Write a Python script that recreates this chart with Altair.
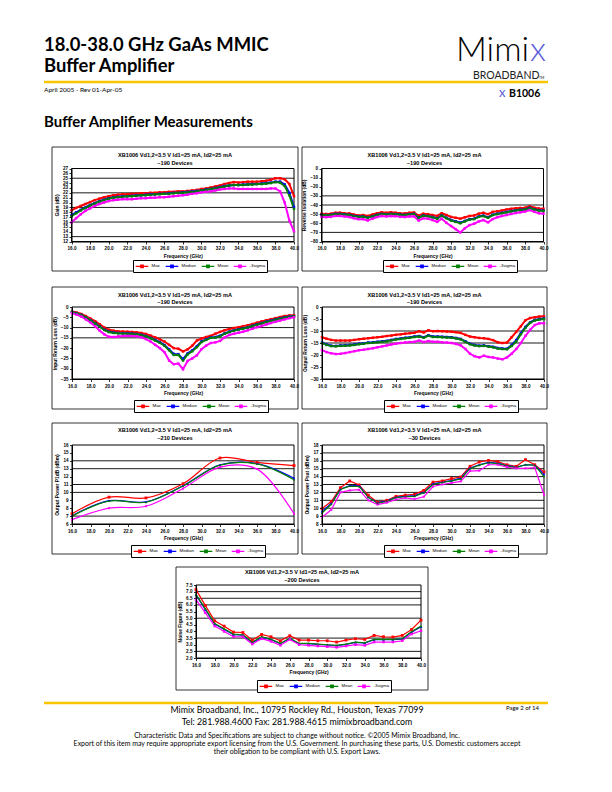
import altair as alt
import pandas as pd

W, H = 596, 776
ARIAL = "Liberation Sans"
GILL = "Lato"
YELLOW = "#F7C600"
LOGO_BLUE = "#5B5BD8"

SERIES = ["Max", "Median", "Mean", "-3sigma"]
SERIES_COLORS = ["#ff0000", "#0000ff", "#008000", "#ff00ff"]
X_TICKS = [16.0, 18.0, 20.0, 22.0, 24.0, 26.0, 28.0, 30.0, 32.0, 34.0, 36.0, 38.0, 40.0]
TITLE_1 = "XB1006 Vd1,2=3.5 V Id1=25 mA, Id2=25 mA"

FREQ_FINE = [16.0, 16.5, 17.0, 17.5, 18.0, 18.5, 19.0, 19.5, 20.0, 20.5, 21.0, 21.5,
             22.0, 22.5, 23.0, 23.5, 24.0, 24.5, 25.0, 25.5, 26.0, 26.5, 27.0, 27.5,
             28.0, 28.5, 29.0, 29.5, 30.0, 30.5, 31.0, 31.5, 32.0, 32.5, 33.0, 33.5,
             34.0, 34.5, 35.0, 35.5, 36.0, 36.5, 37.0, 37.5, 38.0, 38.5, 39.0, 39.5, 40.0]
FREQ_1GHZ = [16.0, 17.0, 18.0, 19.0, 20.0, 21.0, 22.0, 23.0, 24.0, 25.0, 26.0, 27.0, 28.0,
             29.0, 30.0, 31.0, 32.0, 33.0, 34.0, 35.0, 36.0, 37.0, 38.0, 39.0, 40.0]
FREQ_P1DB = [16.0, 20.0, 24.0, 28.0, 32.0, 36.0, 40.0]

# ---- Gain (dB)
GAIN_MAX = [18.4, 18.9, 19.3, 19.7, 20.1, 20.5, 20.8, 21.1, 21.3, 21.5, 21.6, 21.7, 21.7, 21.8, 21.8, 21.9, 21.9,
            22.0, 22.0, 22.1, 22.1, 22.2, 22.2, 22.3, 22.3, 22.4, 22.5, 22.6, 22.8, 22.9, 23.1, 23.3, 23.5, 23.8,
            24.0, 24.2, 24.1, 24.2, 24.3, 24.3, 24.3, 24.4, 24.5, 24.7, 25.0, 25.0, 24.8, 23.8, 21.3]
GAIN_MEDIAN = [17.4, 18.0, 18.5, 19.0, 19.5, 19.9, 20.3, 20.6, 20.9, 21.1, 21.2, 21.3, 21.3, 21.4, 21.5, 21.5, 21.6,
               21.7, 21.7, 21.8, 21.8, 21.9, 22.0, 22.0, 22.1, 22.2, 22.3, 22.4, 22.5, 22.7, 22.8, 23.0, 23.2, 23.4,
               23.5, 23.6, 23.6, 23.7, 23.7, 23.8, 23.8, 23.9, 24.0, 24.1, 24.3, 24.3, 23.7, 22.0, 19.1]
GAIN_MEAN = [17.2, 17.8, 18.4, 18.9, 19.4, 19.8, 20.2, 20.5, 20.8, 21.0, 21.1, 21.2, 21.3, 21.3, 21.4, 21.5, 21.5,
             21.6, 21.7, 21.7, 21.8, 21.8, 21.9, 22.0, 22.0, 22.1, 22.2, 22.3, 22.5, 22.6, 22.8, 22.9, 23.1, 23.3,
             23.5, 23.6, 23.6, 23.6, 23.7, 23.7, 23.8, 23.8, 23.9, 24.0, 24.2, 24.1, 23.4, 21.5, 18.7]
GAIN_M3S = [15.9, 16.8, 17.6, 18.3, 18.8, 19.3, 19.7, 20.0, 20.3, 20.5, 20.6, 20.7, 20.7, 20.7, 20.8, 20.9, 20.9,
            21.0, 21.0, 21.1, 21.1, 21.2, 21.3, 21.4, 21.5, 21.6, 21.8, 21.9, 22.1, 22.2, 22.3, 22.5, 22.7, 22.8,
            22.9, 22.9, 22.8, 22.8, 22.8, 22.8, 22.8, 22.8, 22.8, 22.9, 22.9, 22.3, 20.0, 16.3, 14.1]
GAIN_TICKS = [12, 13, 14, 15, 16, 17, 18, 19, 20, 21, 22, 23, 24, 25, 26, 27]
GAIN_GRID = [13, 16, 19, 22, 25]

# ---- Reverse isolation (dB)
ISO_MAX = [-49.5, -49.8, -49.5, -48.5, -48.4, -49.0, -49.2, -50.5, -51.5, -51.0, -52.0, -50.5, -49.0, -48.0,
           -48.5, -48.0, -48.4, -49.0, -49.2, -48.5, -48.2, -51.5, -49.5, -50.0, -51.0, -52.0, -49.0, -51.0,
           -53.0, -54.0, -55.0, -53.5, -52.0, -51.5, -49.5, -48.5, -50.0, -47.5, -46.8, -46.0, -45.0, -44.2,
           -43.5, -43.2, -43.0, -41.5, -43.0, -43.8, -44.0]
ISO_MEDIAN = [-50.7, -50.9, -50.7, -49.7, -49.7, -50.2, -50.7, -51.9, -52.7, -52.5, -53.6, -52.2, -50.7, -49.7,
              -50.0, -49.7, -49.9, -50.5, -50.7, -50.0, -49.7, -53.5, -51.4, -52.0, -53.1, -54.5, -51.5, -54.0,
              -56.4, -57.8, -59.3, -57.4, -55.5, -55.0, -52.6, -51.6, -53.5, -50.6, -49.6, -48.6, -47.6, -46.6,
              -45.7, -45.2, -44.7, -43.0, -44.7, -45.6, -46.1]
ISO_MEAN = [-51.0, -51.2, -51.0, -50.0, -50.0, -50.5, -51.0, -52.2, -53.0, -52.8, -54.0, -52.5, -51.0, -50.0,
            -50.3, -50.0, -50.2, -50.8, -51.0, -50.3, -50.0, -54.0, -51.8, -52.3, -53.5, -55.0, -51.8, -54.5,
            -57.0, -58.5, -60.0, -58.0, -56.0, -55.5, -53.0, -52.0, -54.0, -51.0, -50.0, -49.0, -48.0, -47.0,
            -46.0, -45.5, -45.0, -43.3, -45.0, -46.0, -46.5]
ISO_M3S = [-53.0, -53.3, -53.0, -52.0, -52.0, -52.6, -53.2, -54.5, -55.5, -55.5, -57.0, -55.0, -53.2, -52.0,
           -52.5, -52.0, -52.2, -53.0, -53.2, -52.5, -52.3, -57.0, -54.5, -55.0, -56.5, -58.5, -55.0, -59.5,
           -63.0, -66.5, -70.0, -65.5, -62.0, -60.5, -58.0, -56.5, -59.0, -55.5, -53.5, -52.0, -51.0, -49.8,
           -48.8, -48.0, -47.2, -45.5, -47.5, -49.0, -49.5]
ISO_TICKS = [0, -10, -20, -30, -40, -50, -60, -70, -80]
ISO_GRID = [-30, -40, -70]

# ---- Input return loss (dB)
IRL_MAX = [-2.2, -2.7, -3.4, -4.4, -5.6, -6.9, -8.4, -10.0, -11.1, -11.5, -11.8, -11.9, -12.0, -12.1, -12.3,
           -12.6, -13.1, -13.9, -14.8, -15.7, -16.8, -18.4, -20.0, -20.3, -21.6, -20.6, -18.8, -16.3, -15.3,
           -14.6, -14.0, -13.0, -12.1, -11.3, -10.7, -10.2, -9.8, -9.3, -8.9, -8.3, -7.6, -7.0, -6.4, -5.9,
           -5.4, -4.9, -4.4, -4.1, -4.0]
IRL_MEDIAN = [-2.4, -3.0, -3.8, -5.0, -6.3, -7.8, -9.4, -11.0, -12.0, -12.4, -12.6, -12.7, -12.8, -12.9, -13.1,
              -13.5, -14.1, -15.0, -16.0, -17.1, -18.5, -20.6, -22.8, -22.9, -25.4, -22.6, -21.1, -19.1, -16.7,
              -15.7, -14.8, -14.6, -14.0, -12.8, -12.0, -11.3, -10.8, -10.3, -9.8, -9.1, -8.4, -7.8, -7.1, -6.6,
              -6.0, -5.5, -5.0, -4.6, -4.4]
IRL_MEAN = [-2.5, -3.1, -3.9, -5.1, -6.5, -8.0, -9.6, -11.2, -12.2, -12.6, -12.8, -12.9, -13.0, -13.1, -13.3,
            -13.7, -14.3, -15.2, -16.3, -17.4, -18.8, -21.0, -23.3, -23.3, -26.0, -23.0, -21.5, -19.5, -17.0,
            -16.0, -15.0, -14.8, -14.3, -13.0, -12.2, -11.5, -11.0, -10.5, -10.0, -9.3, -8.6, -8.0, -7.3, -6.8,
            -6.2, -5.7, -5.2, -4.8, -4.5]
IRL_M3S = [-3.0, -3.7, -4.6, -6.0, -7.5, -9.4, -11.5, -13.3, -14.5, -14.6, -14.3, -14.1, -14.0, -14.1, -14.2,
           -14.7, -15.6, -16.8, -18.4, -20.0, -22.0, -26.0, -27.8, -27.5, -30.3, -26.2, -25.0, -23.5, -20.5,
           -18.8, -17.5, -17.2, -16.5, -14.8, -13.6, -13.0, -12.5, -12.0, -11.3, -10.6, -9.8, -9.2, -8.5, -7.8,
           -7.2, -6.6, -6.0, -5.4, -5.0]
IRL_TICKS = [0, -5, -10, -15, -20, -25, -30, -35]
IRL_GRID = [-10, -15]

# ---- Output return loss (dB)
ORL_MAX = [-12.6, -13.2, -13.7, -14.0, -14.0, -14.0, -14.0, -13.7, -13.4, -13.2, -13.0, -12.8, -12.6, -12.4,
           -12.1, -11.9, -11.6, -11.4, -11.1, -10.9, -10.7, -10.1, -10.6, -9.7, -10.1, -10.0, -10.1, -10.2,
           -10.3, -10.5, -10.8, -11.6, -12.3, -12.6, -12.9, -13.0, -13.3, -13.8, -14.7, -15.0, -14.8, -12.6,
           -10.4, -8.0, -5.5, -4.6, -4.3, -4.0, -3.9]
ORL_MEDIAN = [-14.8, -15.6, -16.1, -16.2, -16.0, -15.9, -15.8, -15.6, -15.3, -15.1, -14.8, -14.7, -14.5, -14.3,
              -14.1, -13.7, -13.3, -13.1, -12.8, -12.6, -12.3, -12.1, -12.6, -11.8, -12.3, -12.3, -12.4, -12.5,
              -12.6, -12.9, -13.3, -14.3, -15.3, -15.8, -16.1, -16.0, -16.3, -16.6, -17.1, -17.3, -17.4, -15.8,
              -13.8, -10.9, -8.3, -6.4, -5.4, -5.0, -4.8]
ORL_MEAN = [-15.0, -15.8, -16.3, -16.4, -16.2, -16.1, -16.0, -15.8, -15.5, -15.3, -15.0, -14.9, -14.7, -14.5,
            -14.3, -13.9, -13.5, -13.3, -13.0, -12.8, -12.5, -12.3, -12.8, -12.0, -12.5, -12.5, -12.6, -12.7,
            -12.8, -13.1, -13.5, -14.5, -15.5, -16.0, -16.3, -16.2, -16.5, -16.8, -17.3, -17.5, -17.6, -16.2,
            -14.3, -11.3, -8.6, -6.6, -5.6, -5.2, -5.0]
ORL_M3S = [-18.0, -18.8, -19.3, -19.6, -19.5, -19.2, -18.8, -18.4, -18.0, -17.8, -17.5, -17.2, -16.8, -16.4,
           -16.0, -15.6, -15.3, -15.0, -14.8, -14.6, -14.5, -14.0, -14.6, -14.2, -14.5, -14.5, -14.7, -14.8,
           -15.0, -15.4, -16.0, -17.5, -19.5, -20.5, -21.0, -20.3, -20.8, -21.0, -21.5, -21.8, -21.0, -19.5,
           -17.5, -15.0, -12.0, -9.5, -7.5, -6.8, -6.8]
ORL_TICKS = [0, -5, -10, -15, -20, -25, -30]
ORL_GRID = [-10, -15]

# ---- Output power P1dB (dBm)
P1DB_MAX = [7.3, 9.4, 9.3, 11.1, 14.35, 13.8, 13.4]
P1DB_MEDIAN = [7.05, 8.95, 8.8, 10.85, 13.5, 13.65, 11.8]
P1DB_MEAN = [7.0, 8.9, 8.75, 10.8, 13.45, 13.6, 11.6]
P1DB_M3S = [6.55, 8.0, 8.25, 10.5, 13.2, 12.95, 7.3]
P1DB_TICKS = [6, 7, 8, 9, 10, 11, 12, 13, 14, 15, 16]
P1DB_GRID = [7, 10, 11, 13, 14]

# ---- Output power Psat (dBm)
PSAT_MAX = [9.95, 10.85, 12.6, 13.45, 12.95, 11.65, 10.75, 11.0, 11.5, 11.65, 11.75, 12.25, 13.3, 13.45, 13.75,
            13.95, 15.3, 15.85, 16.05, 15.9, 15.5, 15.3, 16.15, 15.5, 14.6]
PSAT_MEDIAN = [9.6, 10.6, 12.4, 12.85, 12.85, 11.4, 10.7, 10.9, 11.4, 11.5, 11.6, 12.0, 13.1, 13.3, 13.5, 13.8,
               15.1, 15.5, 15.8, 15.7, 15.4, 15.2, 15.5, 15.45, 14.3]
PSAT_MEAN = [9.4, 10.5, 12.4, 12.8, 12.75, 11.4, 10.6, 10.85, 11.35, 11.45, 11.5, 11.95, 13.0, 13.25, 13.45,
             13.7, 15.0, 15.45, 15.75, 15.65, 15.35, 15.15, 15.5, 15.45, 14.0]
PSAT_M3S = [8.85, 9.8, 12.0, 12.25, 12.35, 11.0, 10.45, 10.7, 11.1, 11.3, 11.15, 11.45, 12.75, 13.0, 13.2,
            13.4, 14.7, 14.75, 15.5, 15.5, 15.2, 15.05, 15.05, 15.15, 11.7]
PSAT_TICKS = [8, 9, 10, 11, 12, 13, 14, 15, 16, 17, 18]
PSAT_GRID = [9, 10, 11, 12, 13, 14, 15, 16, 17]

# ---- Noise figure (dB)
NF_MAX = [7.15, 5.95, 4.8, 4.4, 3.95, 3.92, 3.35, 3.77, 3.6, 3.3, 3.68, 3.35, 3.35, 3.3, 3.3, 3.2, 3.35, 3.45,
          3.4, 3.7, 3.6, 3.58, 3.7, 4.15, 4.85]
NF_MEDIAN = [6.75, 5.65, 4.55, 4.15, 3.75, 3.72, 3.15, 3.55, 3.38, 3.08, 3.48, 3.08, 3.08, 3.02, 2.98, 2.93,
             3.02, 3.18, 3.12, 3.38, 3.38, 3.38, 3.42, 3.95, 4.35]
NF_MEAN = [6.8, 5.7, 4.6, 4.2, 3.8, 3.75, 3.2, 3.6, 3.4, 3.1, 3.5, 3.1, 3.1, 3.05, 3.0, 2.95, 3.05, 3.2, 3.15,
           3.4, 3.4, 3.4, 3.45, 4.0, 4.4]
NF_M3S = [6.4, 5.4, 4.4, 4.0, 3.6, 3.6, 3.05, 3.45, 3.25, 2.95, 3.4, 3.0, 2.95, 2.9, 2.85, 2.8, 2.9, 3.0, 2.95,
          3.2, 3.2, 3.2, 3.3, 3.8, 4.05]
NF_TICKS = [2.0, 2.5, 3.0, 3.5, 4.0, 4.5, 5.0, 5.5, 6.0, 6.5, 7.0, 7.5]
NF_GRID = [2.5, 3.5, 5.0, 6.0, 6.5, 7.0]

LEG_PATH = "M-1.8,0H1.8M-0.35,-0.35H0.35V0.35H-0.35Z"


def P(v):
    return v - 8


def dummy():
    return pd.DataFrame({"k": [0]})


def text_mark(s, x, y, size, weight="normal", align="left", font=GILL, color="black"):
    return alt.Chart(pd.DataFrame({"t": [s]})).mark_text(
        align=align, baseline="alphabetic", font=font, fontSize=size,
        fontWeight=weight, color=color
    ).encode(x=alt.value(P(x)), y=alt.value(P(y)), text="t:N")


def hline(x0, x1, y, color, width):
    return alt.Chart(dummy()).mark_rule(color=color, strokeWidth=width).encode(
        x=alt.value(P(x0)), x2=alt.value(P(x1)), y=alt.value(P(y)))


def long_df(freqs, cols):
    rows = []
    for name, vals in zip(SERIES, cols):
        for f, v in zip(freqs, vals):
            rows.append({"f": f, "v": v, "s": name, "m": name})
    return pd.DataFrame(rows)


def panel(freqs, cols, ydom, yticks, yfmt, grids, ytitle, subtitle, box, plot, title_y, leg_xy,
          line_w, sizes, shapes, interp="linear"):
    bx0, by0, bx1, by1 = box
    px0, py0, px1, py1 = plot
    xs = alt.Scale(domain=[16, 40], range=[P(px0), P(px1)], nice=False, zero=False)
    ys = alt.Scale(domain=ydom, range=[P(py1), P(py0)], nice=False, zero=False)
    common = dict(grid=False, zindex=2, labelOverlap=False, labelFont=ARIAL, labelFontSize=4.6,
                  labelFontWeight="bold", labelColor="black", tickSize=2.5, tickColor="black",
                  tickWidth=0.8, domainColor="black", domainWidth=1, titleFont=ARIAL,
                  titleFontSize=4.9, titleFontWeight="bold", titleColor="black")
    xax = alt.Axis(orient="bottom", offset=P(py1) - H, values=X_TICKS, format=".1f",
                   title="Frequency (GHz)", labelFlush=False, labelPadding=1.5, titlePadding=3,
                   **common)
    yax = alt.Axis(orient="left", offset=-P(px0), values=yticks, format=yfmt, title=ytitle,
                   labelPadding=1.5, titlePadding=3, **common)
    leg = alt.Legend(orient="none", legendX=P(leg_xy[0]), legendY=P(leg_xy[1]),
                     direction="horizontal", columns=4, symbolType=LEG_PATH, symbolSize=49,
                     symbolStrokeWidth=1.3, symbolOffset=3, labelFont=ARIAL, labelFontSize=4.4,
                     labelColor="black", labelOffset=5, columnPadding=2, padding=1.5,
                     strokeColor="black", fillColor="white", zindex=3)
    df = long_df(freqs, cols)
    frame_df = pd.DataFrame({"f0": [16.0], "f1": [40.0], "y0": [ydom[0]], "y1": [ydom[1]]})
    grid_df = pd.DataFrame({"g": grids, "f0": [16.0] * len(grids), "f1": [40.0] * len(grids)})

    # marker scales list the series in reverse so they stay apart from the colour legend
    rev_series = SERIES[::-1]
    rev_colors = SERIES_COLORS[::-1]
    rev_shapes = shapes[::-1]
    rev_sizes = sizes[::-1]

    outer = alt.Chart(dummy()).mark_rect(fill="white", stroke="black", strokeWidth=0.8).encode(
        x=alt.value(P(bx0)), x2=alt.value(P(bx1)), y=alt.value(P(by0)), y2=alt.value(P(by1)))
    rules = alt.Chart(grid_df).mark_rule(color="black", strokeWidth=0.9).encode(
        x=alt.X("f0:Q", scale=xs, axis=xax), x2="f1:Q",
        y=alt.Y("g:Q", scale=ys, axis=yax))
    frame = alt.Chart(frame_df).mark_rect(fillOpacity=0, stroke="black", strokeWidth=1).encode(
        x=alt.X("f0:Q", scale=xs, axis=xax), x2="f1:Q",
        y=alt.Y("y0:Q", scale=ys, axis=yax), y2="y1:Q")
    lines = alt.Chart(df).mark_line(strokeWidth=line_w, interpolate=interp).encode(
        x=alt.X("f:Q", scale=xs, axis=xax),
        y=alt.Y("v:Q", scale=ys, axis=yax),
        color=alt.Color("s:N", scale=alt.Scale(domain=SERIES, range=SERIES_COLORS),
                        title=None, legend=leg))
    points = alt.Chart(df).mark_point(filled=True, opacity=1, strokeWidth=0).encode(
        x=alt.X("f:Q", scale=xs, axis=xax),
        y=alt.Y("v:Q", scale=ys, axis=yax),
        fill=alt.Fill("m:N", scale=alt.Scale(domain=rev_series, range=rev_colors), legend=None),
        shape=alt.Shape("m:N", scale=alt.Scale(domain=rev_series, range=rev_shapes), legend=None),
        size=alt.Size("m:N", scale=alt.Scale(domain=rev_series, range=rev_sizes), legend=None))
    cx = (bx0 + bx1) / 2
    t1 = text_mark(TITLE_1, cx, title_y[0], 5.6, "bold", "center", ARIAL)
    t2 = text_mark(subtitle, cx, title_y[1], 5.6, "bold", "center", ARIAL)
    return alt.layer(outer, rules, frame, lines, points, t1, t2)


DENSE_SHAPES = ["square", "square", "square", "square"]
MARK_SHAPES = ["square", "triangle-up", "triangle-up", "square"]

p1 = panel(FREQ_FINE, [GAIN_MAX, GAIN_MEDIAN, GAIN_MEAN, GAIN_M3S], [12, 27], GAIN_TICKS, "d",
           GAIN_GRID, "Gain (dB)", "~190 Devices", (52, 147, 298, 271), (71.5, 168.5, 294, 241.5),
           (157, 164.5), (133, 260), 2.0, [6, 6, 6, 6], DENSE_SHAPES)
p2 = panel(FREQ_FINE, [ISO_MAX, ISO_MEDIAN, ISO_MEAN, ISO_M3S], [-80, 0], ISO_TICKS, "d",
           ISO_GRID, "Reverse Isolation (dB)", "~190 Devices", (302, 147, 547, 271),
           (321.5, 168.5, 543.5, 241.5), (157, 164.5), (383, 260), 2.0, [6, 6, 6, 6], DENSE_SHAPES)
p3 = panel(FREQ_FINE, [IRL_MAX, IRL_MEDIAN, IRL_MEAN, IRL_M3S], [-35, 0], IRL_TICKS, "d",
           IRL_GRID, "Input Return Loss (dB)", "~190 Devices", (52, 287, 298, 409),
           (72, 307, 294, 379), (297, 304), (134, 400), 2.0, [6, 6, 6, 6], DENSE_SHAPES)
p4 = panel(FREQ_FINE, [ORL_MAX, ORL_MEDIAN, ORL_MEAN, ORL_M3S], [-30, 0], ORL_TICKS, "d",
           ORL_GRID, "Output Return Loss (dB)", "~190 Devices", (302, 287, 547, 409),
           (322, 307, 544, 379), (297, 304), (384, 400), 2.0, [6, 6, 6, 6], DENSE_SHAPES)
p5 = panel(FREQ_P1DB, [P1DB_MAX, P1DB_MEDIAN, P1DB_MEAN, P1DB_M3S], [6, 16], P1DB_TICKS, "d",
           P1DB_GRID, "Output Power P1dB (dBm)", "~210 Devices", (52, 423, 298, 554),
           (72, 445, 294, 524), (432, 439.5), (131, 545), 1.2, [10, 8, 8, 4], MARK_SHAPES,
           "catmull-rom")
p6 = panel(FREQ_1GHZ, [PSAT_MAX, PSAT_MEDIAN, PSAT_MEAN, PSAT_M3S], [8, 18], PSAT_TICKS, "d",
           PSAT_GRID, "Output Power Psat (dBm)", "~30 Devices", (302, 423, 547, 554),
           (322, 445, 544, 524), (432, 439.5), (384, 545), 1.2, [10, 8, 8, 4], MARK_SHAPES)
p7 = panel(FREQ_1GHZ, [NF_MAX, NF_MEDIAN, NF_MEAN, NF_M3S], [2.0, 7.5], NF_TICKS, ".1f",
           NF_GRID, "Noise Figure (dB)", "~200 Devices", (176, 567, 428, 690),
           (196, 585, 421, 658), (574, 581.5), (257, 680), 1.2, [18, 8, 8, 6], MARK_SHAPES)

header = [
    text_mark("18.0-38.0 GHz GaAs MMIC", 44, 51, 18.4, "bold"),
    text_mark("Buffer Amplifier", 44, 72, 18.4, "bold"),
    hline(44, 548, 82, YELLOW, 2.5),
    text_mark("April 2005 - Rev 01-Apr-05", 44, 92, 6.5),
    text_mark("Mimi", 456, 61, 34, 300),
    text_mark("x", 530, 61, 34, 300, "left", GILL, LOGO_BLUE),
    text_mark("BROADBAND", 473, 78.5, 10.5, "normal", "left", GILL, "#222222"),
    text_mark("TM", 539, 78.5, 3.5),
    text_mark("x", 499, 97, 13, "normal", "left", GILL, LOGO_BLUE),
    text_mark("B1006", 509, 97, 10.5, "bold"),
    text_mark("Buffer Amplifier Measurements", 44, 127, 15, "bold"),
]

footer = [
    hline(44, 548, 703, YELLOW, 2.5),
    text_mark("Mimix Broadband, Inc., 10795 Rockley Rd., Houston, Texas 77099", 297, 713, 8.8,
              "normal", "center"),
    text_mark("Tel: 281.988.4600  Fax: 281.988.4615  mimixbroadband.com", 297, 725, 8.8,
              "normal", "center"),
    text_mark("Page 2 of 14", 539, 710, 6, "normal", "right"),
    text_mark("Characteristic Data and Specifications are subject to change without notice. \u00a92005 "
              "Mimix Broadband, Inc.", 297, 738, 7, "normal", "center"),
    text_mark("Export of this item may require appropriate export licensing from the U.S. Government. "
              "In purchasing these parts, U.S. Domestic customers accept", 297, 746, 7, "normal", "center"),
    text_mark("their obligation to be compliant with U.S. Export Laws.", 297, 754, 7, "normal", "center"),
]

chart = alt.layer(*header, p1, p2, p3, p4, p5, p6, p7, *footer).resolve_scale(
    x="independent", y="independent", color="independent", fill="independent",
    shape="independent", size="independent"
).properties(
    width=W, height=H, padding=0, autosize=alt.AutoSizeParams(type="none")
).configure_view(strokeWidth=0)

chart.save("out.html", embed_options={"renderer": "svg", "actions": False})
